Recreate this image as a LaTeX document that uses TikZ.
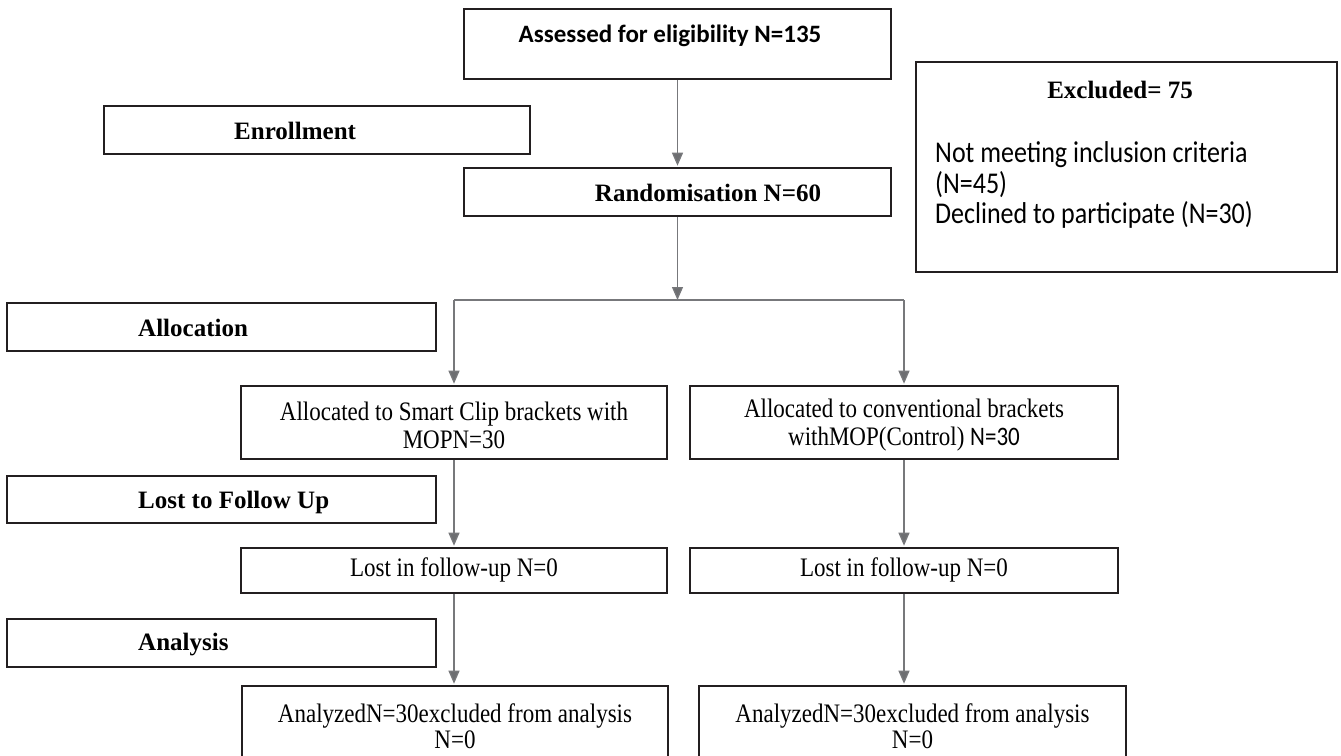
\documentclass[tikz,border=0pt]{standalone}
\usepackage{fontspec}
\usepackage{graphicx}
\setmainfont{Liberation Serif}
\newfontfamily\calfont{Carlito}
\usetikzlibrary{arrows.meta}
\definecolor{boxc}{HTML}{231F20}
\definecolor{arrc}{HTML}{77787B}
\definecolor{tipc}{HTML}{6D6E71}
\newcommand{\tall}[1]{\scalebox{1}[1.16]{#1}}
\begin{document}
\begin{tikzpicture}[x=1pt,y=-1pt,
  box/.style={draw=boxc,line width=1.6pt,inner sep=0pt,fill=white},
  arr/.style={draw=arrc,line width=1.3pt,-{Triangle[length=13pt,width=11pt,fill=tipc]},shorten >=1.5pt},
  conn/.style={draw=arrc,line width=1.3pt},
  hb/.style={font=\fontsize{25}{30}\selectfont\bfseries,inner sep=0pt},
  hs/.style={font=\calfont\fontsize{25}{30}\selectfont\bfseries,inner sep=0pt},
  tx/.style={font=\fontsize{23}{28}\selectfont,inner sep=0pt,align=center},
  cs/.style={font=\calfont\fontsize{26}{30.5}\selectfont,inner sep=0pt,align=left}]
\clip (0,0) rectangle (1341,755);
\fill[white] (0,0) rectangle (1341,755);

% top column
\node[box,minimum width=427,minimum height=70] (assess) at (677.5,44) {};
\node[hs] (assesst) at (670,36) {Assessed for eligibility N=135};
\node[box,minimum width=427,minimum height=48] (random) at (677.5,192) {};
\node[hb] (randomt) at (708,193) {Randomisation N=60};

% excluded
\node[box,minimum width=421,minimum height=210] (excl) at (1126.5,167) {};
\node[hb] (exclt) at (1120,90) {Excluded= 75};
\node[cs,anchor=west] (exclb) at (935,185) {\tall{Not meeting inclusion criteria}\\\tall{(N=45)}\\\tall{Declined to participate (N=30)}};

% stage labels
\node[box,minimum width=426,minimum height=48] (enroll) at (317,130) {};
\node[hb,anchor=west] (enrollt) at (234,131) {Enrollment};
\node[box,minimum width=429,minimum height=48] (alloc) at (221.5,327) {};
\node[hb,anchor=west] (alloct) at (138,328) {Allocation};
\node[box,minimum width=429,minimum height=47] (lostfu) at (221.5,499.5) {};
\node[hb,anchor=west] (lostfut) at (138,502) {Lost to Follow Up};
\node[box,minimum width=429,minimum height=48] (anal) at (221.5,643) {};
\node[hb,anchor=west] (analt) at (138,645) {Analysis};

% allocation boxes
\node[box,minimum width=426,minimum height=73] (allocL) at (454,422.5) {};
\node[tx] (allocLt) at (454,425) {\tall{Allocated to Smart Clip brackets with}\\\tall{MOPN=30}};
\node[box,minimum width=428,minimum height=73] (allocR) at (904,422.5) {};
\node[tx] (allocRt) at (904,425) {\tall{Allocated to conventional brackets}\\\tall{withMOP(Control) {\calfont N=30}}};

% lost boxes
\node[box,minimum width=426,minimum height=45] (lostL) at (454,570.5) {};
\node[tx] (lostLt) at (454,570) {\tall{Lost in follow-up N=0}};
\node[box,minimum width=428,minimum height=45] (lostR) at (904,570.5) {};
\node[tx] (lostRt) at (904,570) {\tall{Lost in follow-up N=0}};

% analysed boxes
\node[box,minimum width=426,minimum height=100] (anaL) at (455,736) {};
\node[tx,font=\fontsize{23}{26}\selectfont] (anaLt) at (455,726) {\tall{AnalyzedN=30excluded from analysis}\\\tall{N=0}};
\node[box,minimum width=427,minimum height=100] (anaR) at (912.5,736) {};
\node[tx,font=\fontsize{23}{26}\selectfont] (anaRt) at (912.5,726) {\tall{AnalyzedN=30excluded from analysis}\\\tall{N=0}};

% connectors
\coordinate (split) at (677.5,300);
\coordinate (splitL) at (454,300);
\coordinate (splitR) at (904,300);
\draw[arr] (assess.south) -- (random.north);
\draw[arr,shorten >=0pt] (random.south) -- (split);
\draw[conn] (splitL) -- (splitR);
\draw[arr] (splitL) -- (allocL.north);
\draw[arr] (splitR) -- (allocR.north);
\draw[arr] (allocL.south) -- (lostL.north);
\draw[arr] (allocR.south) -- (lostR.north);
\draw[arr] (lostL.south) -- (lostL.south |- anaL.north);
\draw[arr] (lostR.south) -- (lostR.south |- anaR.north);
\end{tikzpicture}
\end{document}
